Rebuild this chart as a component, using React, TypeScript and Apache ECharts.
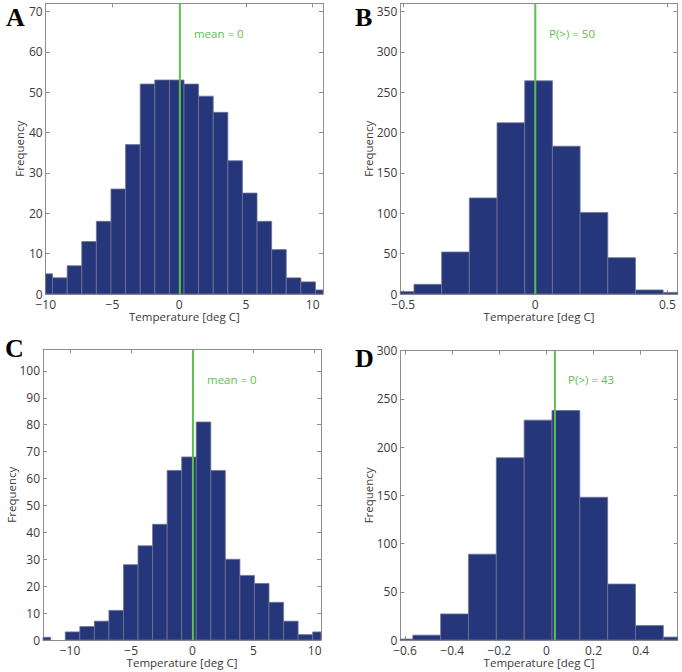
import React, { useEffect, useRef } from "react";
import * as echarts from "echarts";

// ---------- data ----------
// Panel A
const aBinStart = -10.58;
const aBinWidth = 1.094;
const aCounts = [5, 4, 7, 13, 18, 26, 37, 52, 53, 53, 52, 49, 45, 33, 25, 18, 11, 4, 3, 1];
const aXTicks = [-10, -5, 0, 5, 10];
const aYTicks = [0, 10, 20, 30, 40, 50, 60, 70];
const aLine = 0.05;
const aLabel = "mean = 0";
const aLabelPos = [1.1, 64.5];

// Panel B
const bBinStart = -0.564;
const bBinWidth = 0.1048;
const bCounts = [3, 12, 52, 119, 212, 264, 183, 101, 45, 5, 2];
const bXTicks = [-0.5, 0, 0.5];
const bYTicks = [0, 50, 100, 150, 200, 250, 300, 350];
const bLine = 0;
const bLabel = "P(>) = 50";
const bLabelPos = [0.052, 323];

// Panel C
const cBinStart = -12.77;
const cBinWidth = 1.19;
const cCounts = [1, 0, 3, 5, 7, 11, 28, 35, 43, 63, 68, 81, 63, 30, 24, 21, 14, 7, 2, 3];
const cXTicks = [-10, -5, 0, 5, 10];
const cYTicks = [0, 10, 20, 30, 40, 50, 60, 70, 80, 90, 100];
const cLine = 0.05;
const cLabel = "mean = 0";
const cLabelPos = [1.2, 96.8];

// Panel D
const dBinStart = -0.685;
const dBinWidth = 0.1181;
const dCounts = [1, 5, 27, 89, 189, 228, 238, 148, 58, 15, 3];
const dXTicks = [-0.6, -0.4, -0.2, 0, 0.2, 0.4];
const dYTicks = [0, 50, 100, 150, 200, 250, 300];
const dLine = 0.036;
const dLabel = "P(>) = 43";
const dLabelPos = [0.092, 270.6];

const panelLetters = ["A", "B", "C", "D"];

// ---------- layout / style ----------
const FONT = '"Open Sans", sans-serif';
const NAVY = "#26367a";
const EDGE = "#6f7592";
const GREEN = "#5ebf50";
const AXIS = "#8e8e8e";
const TXT = "#3a3a3a";

const panels = [
  { start: aBinStart, width: aBinWidth, counts: aCounts, xTicks: aXTicks, yTicks: aYTicks, line: aLine, label: aLabel, labelPos: aLabelPos,
    xMin: -10, xMax: 10.77, yMax: 72, grid: { left: 45.7, top: 3.3, width: 277.3, height: 290.7 }, nameGap: 20,
    letter: { x: 6, y: 17 } },
  { start: bBinStart, width: bBinWidth, counts: bCounts, xTicks: bXTicks, yTicks: bYTicks, line: bLine, label: bLabel, labelPos: bLabelPos,
    xMin: -0.511, xMax: 0.539, yMax: 360, grid: { left: 400.3, top: 3.3, width: 277.4, height: 290.7 }, nameGap: 26,
    letter: { x: 355, y: 17 } },
  { start: cBinStart, width: cBinWidth, counts: cCounts, xTicks: cXTicks, yTicks: cYTicks, line: cLine, label: cLabel, labelPos: cLabelPos,
    xMin: -12.21, xMax: 10.52, yMax: 108, grid: { left: 43, top: 349.3, width: 278, height: 290.7 }, nameGap: 26,
    letter: { x: 5, y: 348 } },
  { start: dBinStart, width: dBinWidth, counts: dCounts, xTicks: dXTicks, yTicks: dYTicks, line: dLine, label: dLabel, labelPos: dLabelPos,
    xMin: -0.62, xMax: 0.557, yMax: 300, grid: { left: 400.3, top: 350.7, width: 277.4, height: 289.3 }, nameGap: 26,
    letter: { x: 355, y: 358 } },
];

const fmt = (v: number) => String(v).replace("-", "\u2212");

function buildOption() {
  const grid: any[] = [];
  const xAxis: any[] = [];
  const yAxis: any[] = [];
  const series: any[] = [];
  const graphic: any[] = [];
  const n = panels.length;

  panels.forEach((p, i) => {
    grid.push({ ...p.grid, containLabel: false });
    const tick = { show: true, inside: true, length: 4, lineStyle: { color: AXIS, width: 1 } };
    const line = { show: true, onZero: false, lineStyle: { color: AXIS, width: 1 } };
    xAxis[i] = {
      type: "value", gridIndex: i, position: "bottom", min: p.xMin, max: p.xMax,
      axisLine: line, axisTick: { ...tick, customValues: p.xTicks },
      axisLabel: { customValues: p.xTicks, formatter: fmt, color: TXT, fontFamily: FONT, fontSize: 12, margin: 5, lineHeight: 11 },
      splitLine: { show: false },
      name: "Temperature [deg C]", nameLocation: "middle", nameGap: 16, nameMoveOverlap: false,
      nameTextStyle: { color: TXT, fontFamily: FONT, fontSize: 11.5, lineHeight: 12 },
    };
    xAxis[n + i] = {
      type: "value", gridIndex: i, position: "top", min: p.xMin, max: p.xMax,
      axisLine: line, axisTick: { ...tick, customValues: p.xTicks },
      axisLabel: { show: false }, splitLine: { show: false },
    };
    yAxis[i] = {
      type: "value", gridIndex: i, position: "left", min: 0, max: p.yMax,
      axisLine: line, axisTick: { ...tick, customValues: p.yTicks },
      axisLabel: { customValues: p.yTicks, formatter: fmt, color: TXT, fontFamily: FONT, fontSize: 12, margin: 3, lineHeight: 10 },
      splitLine: { show: false },
      name: "Frequency", nameLocation: "middle", nameGap: p.nameGap, nameRotate: 90, nameMoveOverlap: false,
      nameTextStyle: { color: TXT, fontFamily: FONT, fontSize: 11.5 },
    };
    yAxis[n + i] = {
      type: "value", gridIndex: i, position: "right", min: 0, max: p.yMax,
      axisLine: line, axisTick: { ...tick, customValues: p.yTicks },
      axisLabel: { show: false }, splitLine: { show: false },
    };

    const bins = p.counts.map((c, k) => [p.start + k * p.width, p.start + (k + 1) * p.width, c]);
    series.push({
      type: "custom", xAxisIndex: i, yAxisIndex: i, data: bins, silent: true, z: 2,
      renderItem: (_params: any, api: any) => {
        const x0 = Math.max(api.value(0), p.xMin);
        const x1 = Math.min(api.value(1), p.xMax);
        const c = api.value(2);
        if (x1 <= x0 || c <= 0) return null;
        const p0 = api.coord([x0, c]);
        const p1 = api.coord([x1, 0]);
        return {
          type: "rect",
          shape: { x: p0[0], y: p0[1], width: p1[0] - p0[0], height: p1[1] - p0[1] },
          style: { fill: NAVY, stroke: EDGE, lineWidth: 0.8 },
        };
      },
    });
    series.push({
      type: "line", xAxisIndex: i, yAxisIndex: i, data: [[p.line, 0], [p.line, p.yMax]],
      symbol: "none", silent: true, z: 3, lineStyle: { color: GREEN, width: 2 },
    });
    series.push({
      type: "custom", xAxisIndex: i, yAxisIndex: i, data: [p.labelPos], silent: true, z: 4,
      renderItem: (_params: any, api: any) => {
        const pt = api.coord([api.value(0), api.value(1)]);
        return {
          type: "text", x: pt[0], y: pt[1],
          style: { text: p.label, fill: GREEN, font: `11.5px ${FONT}`, align: "left", verticalAlign: "middle" },
        };
      },
    });
    graphic.push({
      type: "text", x: p.letter.x, y: p.letter.y, z: 10,
      style: { text: panelLetters[i], fill: "#000", font: 'bold 26px "Liberation Serif", serif', align: "left", verticalAlign: "middle" },
    });
  });

  return { animation: false, backgroundColor: "#fff", grid, xAxis, yAxis, series, graphic };
}

export default function App() {
  const ref = useRef<HTMLDivElement>(null);
  useEffect(() => {
    if (!ref.current) return;
    const chart = echarts.init(ref.current, undefined, { renderer: "svg" });
    chart.setOption(buildOption() as any);
    return () => chart.dispose();
  }, []);
  return <div ref={ref} style={{ position: "absolute", left: 0, top: 0, width: 682, height: 672 }} />;
}
